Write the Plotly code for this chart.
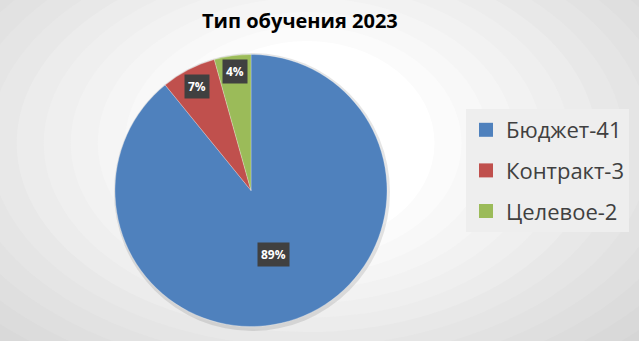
import math
import plotly.graph_objects as go

title = "Тип обучения 2023"
labels = ["Бюджет-41", "Контракт-3", "Целевое-2"]
values = [41, 3, 2]
colors = ["#4F81BD", "#C0504D", "#9BBB59"]

W, H = 639, 341
# pie geometry in pixels
px0, px1, py0, py1 = 115, 387, 54, 327
cx, cy = (px0 + px1) / 2, (py0 + py1) / 2
R = (px1 - px0) / 2

fig = go.Figure()

# background radial gradient
n = 14
shapes = []
for k in range(n):
    t = k / (n - 1)
    g = int(214 + (255 - 214) * t)
    col = f"rgb({g},{g},{g})"
    sx = 0.75 - 0.55 * t
    sy = 0.85 - 0.55 * t
    shapes.append(dict(type="circle", xref="paper", yref="paper",
                       x0=0.48 - sx, x1=0.48 + sx, y0=0.58 - sy, y1=0.58 + sy,
                       fillcolor=col, line=dict(width=0), layer="below"))
# pie shadow
shapes.append(dict(type="circle", xref="paper", yref="paper",
                   x0=(px0 - 1) / W, x1=(px1 + 3) / W,
                   y0=1 - (py1 + 4) / H, y1=1 - (py0 - 1) / H,
                   fillcolor="rgba(0,0,0,0.10)", line=dict(width=0), layer="below"))

fig.add_trace(go.Pie(
    labels=labels, values=values, sort=False, direction="clockwise", rotation=0,
    marker=dict(colors=colors, line=dict(color="rgba(255,255,255,0.5)", width=0.5)),
    textinfo="none", hoverinfo="label+value+percent", showlegend=False,
    domain=dict(x=[px0 / W, px1 / W], y=[1 - py1 / H, 1 - py0 / H]),
))

for lab, col in zip(labels, colors):
    fig.add_trace(go.Scatter(x=[None], y=[None], mode="markers", name=lab,
                             marker=dict(symbol="square", size=14, color=col),
                             legendgroup=lab, showlegend=True))

# percentage labels
total = sum(values)
fracs = [0.5, 0.865, 0.88]
annotations = []
cum = 0
for v, f in zip(values, fracs):
    mid = (cum + v / 2) / total * 2 * math.pi
    cum += v
    x = cx + f * R * math.sin(mid)
    y = cy - f * R * math.cos(mid)
    annotations.append(dict(x=x / W, y=1 - y / H, xref="paper", yref="paper",
                            xanchor="center", yanchor="middle",
                            text=f"<b>{round(100 * v / total)}%</b>", showarrow=False,
                            font=dict(family="Open Sans", size=12, color="white"),
                            bgcolor="#404040", borderpad=3))

annotations.append(dict(x=300 / W, y=1 - 21 / H, xref="paper", yref="paper",
                        xanchor="center", yanchor="middle",
                        text=f"<b>{title}</b>", showarrow=False,
                        font=dict(family="Open Sans", size=20, color="black")))

fig.update_layout(
    width=W, height=H, margin=dict(l=0, r=0, t=0, b=0),
    paper_bgcolor="rgb(214,214,214)", plot_bgcolor="rgba(0,0,0,0)",
    shapes=shapes, annotations=annotations,
    xaxis=dict(visible=False), yaxis=dict(visible=False),
    legend=dict(x=466 / W, y=1 - 109 / H, xanchor="left", yanchor="top",
                bgcolor="rgb(238,238,238)", tracegroupgap=9,
                font=dict(family="Open Sans", size=22, color="#404040"),
                itemclick=False),
    showlegend=True,
)

fig.write_html("out.html")
